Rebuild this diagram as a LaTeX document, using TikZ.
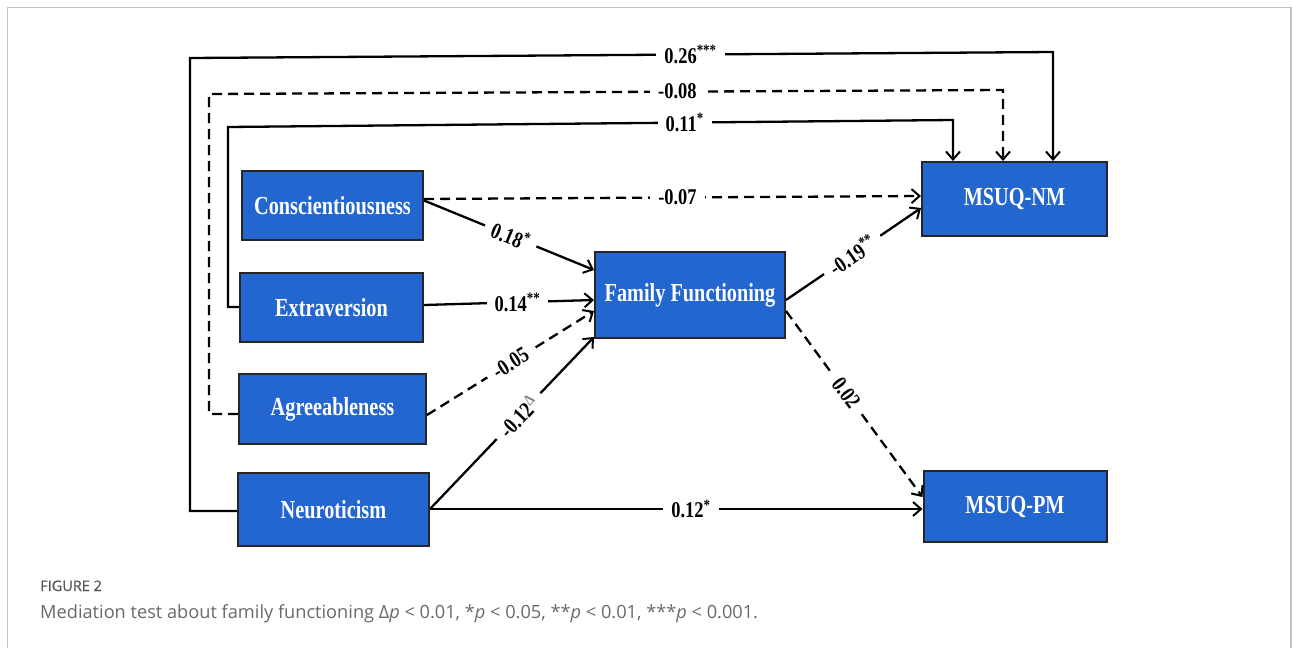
\documentclass[tikz,border=0pt]{standalone}
\usepackage{fontspec}
\setmainfont{Liberation Serif}
\newfontfamily\boxfont[FakeStretch=0.78]{Liberation Serif}
\newfontfamily\lblfont[FakeStretch=0.82]{Liberation Serif}
\newfontfamily\capfont{Open Sans}
\newfontfamily\figfont[RawFeature={embolden=0.9}]{Open Sans}
\usetikzlibrary{arrows.meta,calc}
\definecolor{boxblue}{RGB}{35,102,207}
\definecolor{framegray}{RGB}{195,195,195}
\definecolor{capgray}{RGB}{105,105,105}
\definecolor{figgray}{RGB}{85,85,85}
\begin{document}
\begin{tikzpicture}[x=1pt,y=1pt,
  box/.style={draw=black!85,line width=2pt,fill=boxblue,text=white,inner sep=0pt,
    font=\boxfont\bfseries\fontsize{26}{28}\selectfont},
  conn/.style={line width=2.3pt,-{Straight Barb[length=8pt,width=14pt,line width=2pt]}},
  dsh/.style={dash pattern=on 10pt off 6pt},
  lbl/.style={fill=white,inner xsep=8pt,inner ysep=1.5pt,font=\lblfont\bfseries\fontsize{22.5}{24}\selectfont},
]
\useasboundingbox (0,0) rectangle (1293,-648);
% frame
\draw[framegray,line width=1.5pt] (7.5,-648) -- (7.5,-7.5) -- (1291,-7.5) -- (1291,-648);

% boxes
\node[box,minimum width=181pt,minimum height=69pt] (cons) at (332.5,-205.5) {Conscientiousness};
\node[box,minimum width=183pt,minimum height=69pt] (extra) at (331.5,-307.5) {Extraversion};
\node[box,minimum width=187pt,minimum height=70pt] (agree) at (332.5,-409) {Agreeableness};
\node[box,minimum width=191pt,minimum height=73pt] (neuro) at (333.5,-509.5) {Neuroticism};
\node[box,minimum width=190pt,minimum height=86pt] (ff) at (690,-295) {Family Functioning};
\node[box,minimum width=185pt,minimum height=74pt] (nm) at (1014.5,-199) {MSUQ-NM};
\node[box,minimum width=183pt,minimum height=71pt] (pm) at (1015,-506.5) {MSUQ-PM};

% corner coordinates of the long paths
\coordinate (n1) at (190,-511);
\coordinate (n2) at (190,-58);
\coordinate (n3) at (1053,-52);
\coordinate (a1) at (209,-414);
\coordinate (a2) at (209,-94);
\coordinate (a3) at (1003,-90);
\coordinate (e1) at (228,-307);
\coordinate (e2) at (228,-127);
\coordinate (e3) at (953,-120);

% long paths to MSUQ-NM
\draw[conn] ([yshift=-1.5pt]neuro.west) -- (n1) -- (n2) -- node[lbl,pos=.58]{0.26\textsuperscript{***}} (n3) -- (n3 |- nm.north);
\draw[conn,dsh] ([yshift=-5pt]agree.west) -- (a1) -- (a2) -- node[lbl,pos=.59]{-0.08} (a3) -- (a3 |- nm.north);
\draw[conn] ([yshift=0.5pt]extra.west) -- (e1) -- (e2) -- node[lbl,pos=.63]{0.11\textsuperscript{*}} (e3) -- (e3 |- nm.north);

% direct paths
\draw[conn,dsh] ([yshift=6.5pt]cons.east) -- node[lbl,pos=.51]{-0.07} ([yshift=3pt]nm.west);
\draw[conn] ([yshift=5pt]cons.east) -- node[lbl,sloped,pos=.51]{0.18\textsuperscript{*}} ([yshift=25pt]ff.west);
\draw[conn] ([yshift=2.5pt]extra.east) -- node[lbl,pos=.55]{0.14\textsuperscript{**}} ([yshift=-5pt]ff.west);
\draw[conn,dsh] ([yshift=-6pt]agree.east) -- node[lbl,sloped,pos=.5]{-0.05} ([yshift=-16pt]ff.west);
\draw[conn] ([yshift=0.5pt]neuro.east) -- node[lbl,sloped,pos=.54]{-0.12\textsuperscript{\textcolor{gray}{Δ}}} ([yshift=-42pt]ff.west);
\draw[conn] ([yshift=0.5pt]neuro.east) -- node[lbl,pos=.53]{0.12\textsuperscript{*}} ([yshift=0.5pt]neuro.east -| pm.west);
\draw[conn] ([yshift=-5pt]ff.east) -- node[lbl,sloped,pos=.49]{-0.19\textsuperscript{**}} ([yshift=-9pt]nm.west);
\draw[conn,dsh] ([yshift=-16pt]ff.east) -- node[lbl,sloped,pos=.44]{0.02} ([yshift=9.5pt]pm.west);

% caption
\node[anchor=base west,inner sep=0pt,text=figgray,font=\figfont\fontsize{14.5}{16}\selectfont] (figlbl) at (40,-591) {FIGURE 2};
\node[anchor=base west,inner sep=0pt,text=capgray,font=\capfont\fontsize{18.2}{20}\selectfont] (cap) at (40,-618)
  {Mediation test about family functioning Δ\textit{p} < 0.01, *\textit{p} < 0.05, **\textit{p} < 0.01, ***\textit{p} < 0.001.};
\end{tikzpicture}
\end{document}
